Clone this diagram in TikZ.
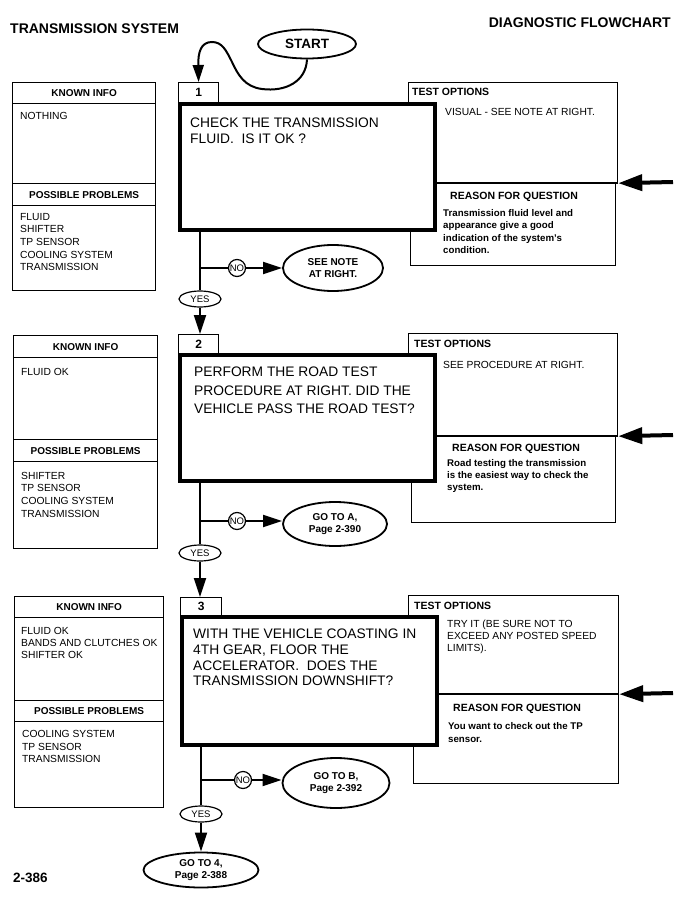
\documentclass[tikz,border=0pt]{standalone}
\usepackage{fontspec}
\setmainfont{Liberation Sans}
\usetikzlibrary{shapes.geometric, arrows.meta}
\newcommand{\fsel}[2]{\fontsize{#1}{#2}\selectfont}
\tikzset{
  pagehead/.style={anchor=north west, inner sep=0pt, font=\bfseries\fsel{14}{16}},
  infobox/.style={rectangle, draw=black, line width=1.2pt, anchor=north west, inner sep=0pt},
  infohead/.style={infobox, font=\bfseries\fsel{10}{12}},
  infotxt/.style={anchor=north west, inner sep=0pt, align=left, font=\fsel{10.3}{12.6}},
  numtab/.style={rectangle, draw=black, line width=1.2pt, anchor=north west,
    inner sep=0pt, font=\bfseries\fsel{12}{14}},
  quest/.style={rectangle, draw=black, line width=4pt, fill=white, anchor=north west, inner sep=0pt},
  questtxt/.style={anchor=north west, inner sep=0pt, align=left, font=\fsel{13.8}{16}},
  optbox/.style={rectangle, draw=black, line width=1.2pt, anchor=north west, inner sep=0pt},
  opthead/.style={anchor=north west, inner sep=0pt, font=\bfseries\fsel{10.5}{12}},
  opttxt/.style={anchor=north west, inner sep=0pt, align=left, font=\fsel{10.3}{11.7}},
  rsntxt/.style={anchor=north west, inner sep=0pt, align=left, font=\bfseries\fsel{9.7}{12.4}},
  term/.style={ellipse, draw=black, line width=1.8pt, inner sep=0pt, align=center,
    font=\bfseries\fsel{10}{12}},
  nobub/.style={circle, draw=black, line width=1.2pt, minimum size=17pt, inner sep=0pt,
    font=\fsel{9.5}{10}},
  yesbub/.style={ellipse, draw=black, line width=1.2pt, minimum width=42pt,
    minimum height=16pt, inner sep=0pt, font=\fsel{9.5}{10}},
  flow/.style={draw=black, line width=2pt},
  arr/.style={flow, -{Triangle[length=19pt, width=12pt]}},
  sidearr/.style={draw=black, line width=4pt, -{Triangle[length=24pt, width=16pt]}},
}

\begin{document}
\begin{tikzpicture}[x=1pt, y=-1pt]
  \fill[white] (0,0) rectangle (683,904);
  \useasboundingbox (0,0) rectangle (683,904);

  % page heading
  \node[pagehead] (title) at (10,24) {TRANSMISSION SYSTEM};
  \node[pagehead, anchor=north east] (kind) at (671,18) {DIAGNOSTIC FLOWCHART};
  \node[pagehead, font=\bfseries\fsel{13.5}{15}] (pnum) at (13,873) {2-386};

  \node[term, font=\bfseries\fsel{13.5}{15}, minimum width=98pt, minimum height=29pt]
    (start) at (307,44) {START};

  % step 1
  \node[infobox, minimum width=143pt, minimum height=208pt] (known1) at (12,82) {};
  \node[infohead, minimum width=143pt, minimum height=21pt] (kh1) at (12,82) {KNOWN INFO};
  \node[infohead, minimum width=143pt, minimum height=22pt] (ph1) at (12,183) {POSSIBLE PROBLEMS};
  \node[infotxt] (kt1) at (20,112) {NOTHING};
  \node[infotxt] (pt1) at (20,213) {FLUID\\SHIFTER\\TP SENSOR\\COOLING SYSTEM\\TRANSMISSION};

  \node[optbox, minimum width=209pt, minimum height=100pt] (opt1) at (408,82) {};
  \node[optbox, minimum width=205pt, minimum height=83pt] (rsn1) at (410,182) {};
  \draw[line width=2pt] (opt1.south west) -- (opt1.south east);
  \node[quest, minimum width=255pt, minimum height=126pt] (q1) at (178,102) {};
  \node[numtab, minimum width=40pt, minimum height=20pt] (tab1) at (178,82) {1};
  \node[questtxt] (qt1) at (190,118) {CHECK THE TRANSMISSION\\FLUID.\ \ IS IT OK ?};
  \node[opthead] (oh1) at (412,88) {TEST OPTIONS};
  \node[opttxt] (ot1) at (445,108) {VISUAL - SEE NOTE AT RIGHT.};
  \node[opthead] (rh1) at (450,192) {REASON FOR QUESTION};
  \node[rsntxt] (rt1) at (443,209) {Transmission fluid level and\\appearance give a good\\indication of the system's\\condition.};

  \coordinate (in1) at (673,182);
  \draw[sidearr] (in1) -- (opt1.south east);

  \coordinate (j1) at (200,268);
  \node[nobub] (no1) at (237,268) {NO};
  \node[term, minimum width=100pt, minimum height=46pt] (see1) at (333,268) {SEE NOTE\\AT RIGHT.};
  \node[yesbub] (yes1) at (200,299) {YES};

  \draw[flow, -{Triangle[length=17pt, width=11pt]}] (start.south)
    .. controls (306,82) and (285,92) .. (262,89)
    .. controls (245,87) and (238,75) .. (232,62)
    .. controls (226,50) and (222,42) .. (212,42)
    .. controls (201,42) and (198,52) .. (tab1.north);

  % step 2
  \node[infobox, minimum width=144pt, minimum height=213pt] (known2) at (13,335) {};
  \node[infohead, minimum width=144pt, minimum height=22pt] (kh2) at (13,335) {KNOWN INFO};
  \node[infohead, minimum width=144pt, minimum height=22pt] (ph2) at (13,439) {POSSIBLE PROBLEMS};
  \node[infotxt] (kt2) at (21,368) {FLUID OK};
  \node[infotxt] (pt2) at (21,472) {SHIFTER\\TP SENSOR\\COOLING SYSTEM\\TRANSMISSION};

  \node[optbox, minimum width=209pt, minimum height=102pt] (opt2) at (408,333) {};
  \node[optbox, minimum width=204pt, minimum height=87pt] (rsn2) at (411,435) {};
  \draw[line width=2pt] (opt2.south west) -- (opt2.south east);
  \node[quest, minimum width=255pt, minimum height=126pt] (q2) at (178,353) {};
  \node[numtab, minimum width=40pt, minimum height=19pt] (tab2) at (178,334) {2};
  \node[questtxt, font=\fsel{13.8}{18.5}] (qt2) at (194,367)
    {PERFORM THE ROAD TEST\\PROCEDURE AT RIGHT. DID THE\\VEHICLE PASS THE ROAD TEST?};
  \node[opthead] (oh2) at (414,340) {TEST OPTIONS};
  \node[opttxt] (ot2) at (443,361) {SEE PROCEDURE AT RIGHT.};
  \node[opthead] (rh2) at (452,444) {REASON FOR QUESTION};
  \node[rsntxt, font=\bfseries\fsel{9.7}{12}] (rt2) at (447,459)
    {Road testing the transmission\\is the easiest way to check the\\system.};

  \coordinate (in2) at (673,435);
  \draw[sidearr] (in2) -- (opt2.south east);

  \coordinate (j2) at (200,521);
  \node[nobub] (no2) at (237,521) {NO};
  \node[term, minimum width=104pt, minimum height=44pt] (goA) at (335,524) {GO TO A,\\Page 2-390};
  \node[yesbub] (yes2) at (200,553) {YES};

  % step 3
  \node[infobox, minimum width=149pt, minimum height=211pt] (known3) at (14,596) {};
  \node[infohead, minimum width=149pt, minimum height=21pt] (kh3) at (14,596) {KNOWN INFO};
  \node[infohead, minimum width=149pt, minimum height=21pt] (ph3) at (14,700) {POSSIBLE PROBLEMS};
  \node[infotxt, font=\fsel{10.3}{12.2}] (kt3) at (21,627) {FLUID OK\\BANDS AND CLUTCHES OK\\SHIFTER OK};
  \node[infotxt] (pt3) at (22,730) {COOLING SYSTEM\\TP SENSOR\\TRANSMISSION};

  \node[optbox, minimum width=210pt, minimum height=98pt] (opt3) at (408,595) {};
  \node[optbox, minimum width=205pt, minimum height=90pt] (rsn3) at (413,693) {};
  \draw[line width=2pt] (opt3.south west) -- (opt3.south east);
  \node[quest, minimum width=255pt, minimum height=128pt] (q3) at (180,615) {};
  \node[numtab, minimum width=41pt, minimum height=18pt] (tab3) at (180,597) {3};
  \node[questtxt, font=\fsel{13.8}{15.7}] (qt3) at (193,629)
    {WITH THE VEHICLE COASTING IN\\4TH GEAR, FLOOR THE\\ACCELERATOR.\ \ DOES THE\\TRANSMISSION DOWNSHIFT?};
  \node[opthead] (oh3) at (414,602) {TEST OPTIONS};
  \node[opttxt] (ot3) at (447,620) {TRY IT (BE SURE NOT TO\\EXCEED ANY POSTED SPEED\\LIMITS).};
  \node[opthead] (rh3) at (453,704) {REASON FOR QUESTION};
  \node[rsntxt, font=\bfseries\fsel{9.7}{13}] (rt3) at (448,722) {You want to check out the TP\\sensor.};

  \coordinate (in3) at (673,693);
  \draw[sidearr] (in3) -- (opt3.south east);

  \coordinate (j3) at (201,780);
  \node[nobub] (no3) at (243,780) {NO};
  \node[term, minimum width=107pt, minimum height=50pt] (goB) at (336,783) {GO TO B,\\Page 2-392};
  \node[yesbub] (yes3) at (201,814) {YES};
  \node[term, minimum width=115pt, minimum height=35pt] (go4) at (201,870) {GO TO 4,\\Page 2-388};

  % connectors
  \draw[flow] (q1.south -| j1) -- (j1) -- (yes1);
  \draw[flow] (j1) -- (no1);
  \draw[arr] (no1) -- (no1 -| see1.west);
  \draw[arr] (yes1) -- (yes1 |- tab2.north);

  \draw[flow] (q2.south -| j2) -- (j2) -- (yes2);
  \draw[flow] (j2) -- (no2);
  \draw[arr] (no2) -- (no2 -| goA.west);
  \draw[arr] (yes2) -- (yes2 |- tab3.north);

  \draw[flow] (q3.south -| j3) -- (j3) -- (yes3);
  \draw[flow] (j3) -- (no3);
  \draw[arr] (no3) -- (no3 -| goB.west);
  \draw[arr] (yes3) -- (yes3 |- go4.north);
\end{tikzpicture}
\end{document}
